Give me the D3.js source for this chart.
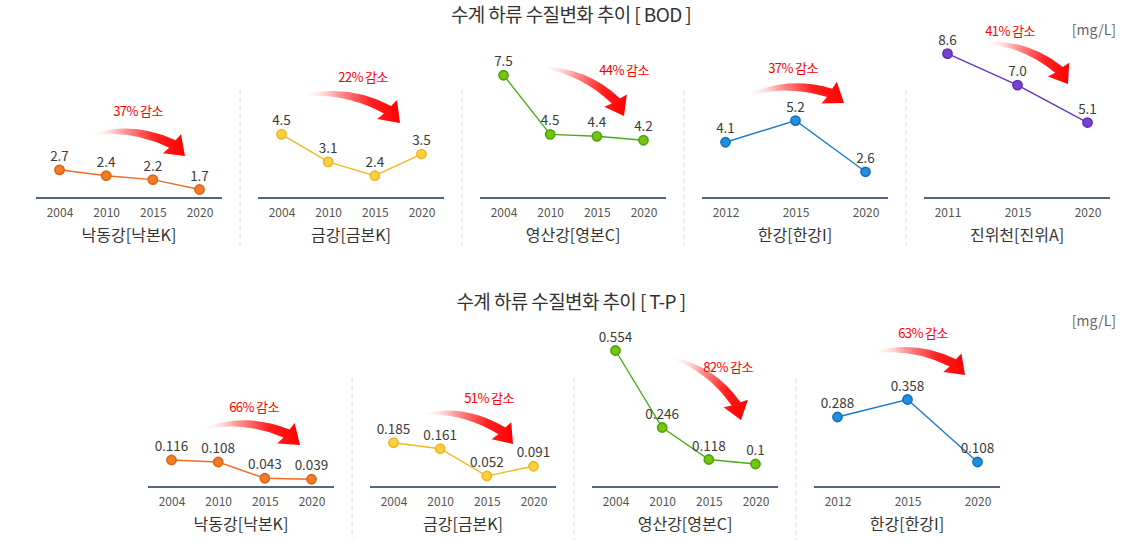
<!DOCTYPE html>
<html><head><meta charset="utf-8">
<script src="https://cdn.jsdelivr.net/npm/d3@7"></script>
<style>
html,body{margin:0;padding:0;background:#fff;}
svg{display:block;font-family:"Noto Sans CJK KR","Noto Sans",sans-serif;}
</style></head>
<body>
<svg id="chart" width="1144" height="540"></svg>
<script>
// ---- data ----
const bodTitle = "수계 하류 수질변화 추이 [ BOD ]";
const tpTitle = "수계 하류 수질변화 추이 [ T-P ]";
const unitLabel = "[mg/L]";

const bodRivers = ["낙동강[낙본K]", "금강[금본K]", "영산강[영본C]", "한강[한강I]", "진위천[진위A]"];
const bodYears = [["2004","2010","2015","2020"], ["2004","2010","2015","2020"], ["2004","2010","2015","2020"], ["2012","2015","2020"], ["2011","2015","2020"]];
const bodValues = [[2.7, 2.4, 2.2, 1.7], [4.5, 3.1, 2.4, 3.5], [7.5, 4.5, 4.4, 4.2], [4.1, 5.2, 2.6], [8.6, 7.0, 5.1]];
const bodReduction = ["37% 감소", "22% 감소", "44% 감소", "37% 감소", "41% 감소"];

const tpRivers = ["낙동강[낙본K]", "금강[금본K]", "영산강[영본C]", "한강[한강I]"];
const tpYears = [["2004","2010","2015","2020"], ["2004","2010","2015","2020"], ["2004","2010","2015","2020"], ["2012","2015","2020"]];
const tpValues = [[0.116, 0.108, 0.043, 0.039], [0.185, 0.161, 0.052, 0.091], [0.554, 0.246, 0.118, 0.1], [0.288, 0.358, 0.108]];
const tpReduction = ["66% 감소", "51% 감소", "82% 감소", "63% 감소"];

// ---- styling / layout ----
const riverColors = [
  {line:"#ee6b22", fill:"#f37d22", stroke:"#e0601a"},
  {line:"#f2b824", fill:"#f7d23e", stroke:"#f0b521"},
  {line:"#4bab18", fill:"#79c40f", stroke:"#4aa313"},
  {line:"#1a7ccc", fill:"#2190dc", stroke:"#1770c0"},
  {line:"#6434c4", fill:"#7743d0", stroke:"#5f2fbf"}
];
const panelW = 186, panelStep = 222;

const rows = [
  {title: bodTitle, titleY: 22, unitY: 35, x0: 36, axisY: 198, sepTop: 90, sepBottom: 245,
   rivers: bodRivers, years: bodYears, values: bodValues, reduction: bodReduction,
   yDomain: [0, 10], yRange: [223, 26], fmt: v => v.toFixed(1),
   arrows: [[91,134,185,156],[303,95,400,123],[543,67,624,116],[747,95,844,103],[985,42,1068,84]],
   labels: [[138,111],[363,77],[624,70],[793,68],[1010,31]]},
  {title: tpTitle, titleY: 309, unitY: 326, x0: 148, axisY: 487, sepTop: 378, sepBottom: 540,
   rivers: tpRivers, years: tpYears, values: tpValues, reduction: tpReduction,
   yDomain: [0, 1], yRange: [489, 239], fmt: v => String(v),
   arrows: [[203,428,300,445],[423,413,513,444],[672,357,741,420],[873,352,965,375]],
   labels: [[254,407],[489,398],[728,367],[923,333]]}
];

const svg = d3.select("#chart");
const defs = svg.append("defs");
const grad = defs.append("linearGradient").attr("id","arrowGrad")
  .attr("x1","0").attr("y1","0").attr("x2","1").attr("y2","0");
grad.append("stop").attr("offset","0").attr("stop-color","#ffffff").attr("stop-opacity",0.2);
grad.append("stop").attr("offset","0.35").attr("stop-color","#ff9a9a");
grad.append("stop").attr("offset","0.7").attr("stop-color","#ff2020");
grad.append("stop").attr("offset","1").attr("stop-color","#ff0000");

// canonical curved arrow: tail at (0,0), tip at (97,28)
const arrowPath = "M0,0 Q45,-12 88,11 L94,5 L97,28 L74,24 L81,18.5 Q42,-3 0,1.8 Z";
const canon = [97, 28];
const canonLen = Math.hypot(canon[0], canon[1]);
const canonAng = Math.atan2(canon[1], canon[0]);

rows.forEach(row => {
  svg.append("text").attr("x", 571).attr("y", row.titleY).attr("text-anchor","middle")
    .attr("font-size", 19).attr("fill", "#333").attr("letter-spacing", -0.6).text(row.title);
  svg.append("text").attr("x", 1116).attr("y", row.unitY).attr("text-anchor","end")
    .attr("font-size", 14).attr("fill", "#666").text(unitLabel);

  const y = d3.scaleLinear().domain(row.yDomain).range(row.yRange);

  row.rivers.forEach((river, i) => {
    const x0 = row.x0 + i * panelStep;
    const g = svg.append("g").attr("transform", `translate(${x0},0)`);
    const x = d3.scalePoint().domain(row.years[i]).range([23.5, 163.5]);
    const col = riverColors[i];
    const pts = row.years[i].map((yr, k) => ({yr, v: row.values[i][k]}));

    if (i > 0) {
      svg.append("line").attr("x1", x0 - 18).attr("x2", x0 - 18)
        .attr("y1", row.sepTop).attr("y2", row.sepBottom)
        .attr("stroke", "#dcdcdc").attr("stroke-dasharray", "5,3");
    }

    // axis
    g.append("line").attr("x1", 0).attr("x2", panelW).attr("y1", row.axisY).attr("y2", row.axisY)
      .attr("stroke", "#1b3354").attr("stroke-width", 1.3);
    const ax = g.append("g").attr("transform", `translate(0,${row.axisY})`)
      .call(d3.axisBottom(x).tickSize(0).tickPadding(10));
    ax.select(".domain").remove();
    ax.selectAll("text").attr("font-size", 12).attr("fill", "#555")
      .attr("font-family", "'Noto Sans CJK KR','Noto Sans',sans-serif");

    g.append("text").attr("x", panelW / 2).attr("y", row.axisY + 43).attr("text-anchor","middle")
      .attr("font-size", 16).attr("fill", "#333").text(river);

    // line + points
    g.append("path").datum(pts)
      .attr("d", d3.line().x(d => x(d.yr)).y(d => y(d.v)))
      .attr("fill","none").attr("stroke", col.line).attr("stroke-width", 1.4);
    g.selectAll("circle.pt").data(pts).join("circle").attr("class","pt")
      .attr("cx", d => x(d.yr)).attr("cy", d => y(d.v)).attr("r", 4.6)
      .attr("fill", col.fill).attr("stroke", col.stroke).attr("stroke-width", 1.6);
    g.selectAll("text.val").data(pts).join("text").attr("class","val")
      .attr("x", d => x(d.yr)).attr("y", d => y(d.v) - 9).attr("text-anchor","middle")
      .attr("font-size", 13.5).attr("fill", "#3a3a3a").text(d => row.fmt(d.v));

    // reduction arrow + label
    const [tx, ty, px, py] = row.arrows[i];
    const len = Math.hypot(px - tx, py - ty);
    const ang = (Math.atan2(py - ty, px - tx) - canonAng) * 180 / Math.PI;
    svg.append("path").attr("d", arrowPath).attr("fill", "url(#arrowGrad)")
      .attr("transform", `translate(${tx},${ty}) rotate(${ang}) scale(${len / canonLen})`);
    const [lx, ly] = row.labels[i];
    svg.append("text").attr("x", lx).attr("y", ly + 5).attr("text-anchor","middle")
      .attr("font-size", 13).attr("fill", "#ff0000").attr("letter-spacing", -0.6)
      .text(row.reduction[i]);
  });
});
</script>
</body></html>
